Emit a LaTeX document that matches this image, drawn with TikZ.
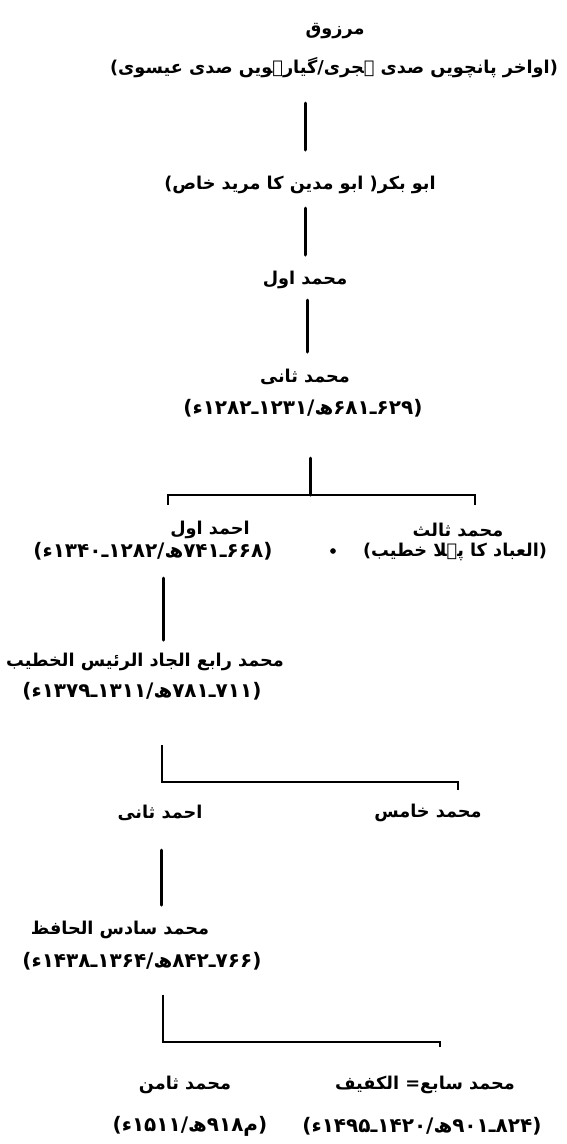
\documentclass[tikz,border=0pt]{standalone}
\usepackage{fontspec}
\newfontfamily\urdufont[Script=Arabic]{DejaVu Sans}
\TeXXeTstate=1
\newcommand{\ur}[1]{\beginR #1\endR}

\begin{document}
\begin{tikzpicture}[x=1pt,y=-1pt,
    branch/.style={line width=3pt,line cap=round},
    fork/.style={line width=2.2pt},
    person/.style={font=\urdufont\bfseries\fontsize{17.7}{21}\selectfont,inner sep=0pt},
    dates/.style={font=\urdufont\bfseries\fontsize{20}{22}\selectfont,inner sep=0pt}]

    \useasboundingbox (0,0) rectangle (566,1144);

    \coordinate (l1_top) at (305,103);
    \coordinate (l1_bot) at (305,150);
    \coordinate (l2_top) at (305,208);
    \coordinate (l2_bot) at (305,255);
    \coordinate (l3_top) at (307,300);
    \coordinate (l3_bot) at (307,352);
    \coordinate (l4_top) at (310,458);
    \coordinate (f1_mid) at (310,495);
    \coordinate (f1_left) at (168,505);
    \coordinate (f1_right) at (475,495);
    \coordinate (f1_right_tip) at (475,505);
    \coordinate (l5_top) at (163,578);
    \coordinate (l5_bot) at (163,640);
    \coordinate (l6_top) at (162,745);
    \coordinate (f2_right) at (458,782);
    \coordinate (f2_right_tip) at (458,790);
    \coordinate (l7_top) at (161,850);
    \coordinate (l7_bot) at (161,905);
    \coordinate (l8_top) at (163,995);
    \coordinate (f3_right) at (440,1042);
    \coordinate (f3_right_tip) at (440,1047);

    % Labels
    \node[person] (marzuq) at (335,31) {\ur{مرزوق}};
    \node[person] (marzuq_era) at (334,68) {\ur{(اواخر پانچویں صدی ہجری/گیارہویں صدی عیسوی)}};
    \node[person] (abubakr) at (300,185) {\ur{ابو بکر( ابو مدین کا مرید خاص)}};
    \node[person] (muhammad_1) at (305,280) {\ur{محمد اول}};
    \node[person] (muhammad_2) at (305,377) {\ur{محمد ثانی}};
    \node[dates] (muhammad_2_dates) at (303,408) {\ur{(۶۲۹ـ۶۸۱ھ/۱۲۳۱ـ۱۲۸۲ء)}};

    \node[person] (ahmad_1) at (210,530) {\ur{احمد اول}};
    \node[dates] (ahmad_1_dates) at (153,551) {\ur{(۶۶۸ـ۷۴۱ھ/۱۲۸۲ـ۱۳۴۰ء)}};
    \node[person] (muhammad_3) at (458,530) {\ur{محمد ثالث}};
    \node[person] (muhammad_3_note) at (455,552) {\ur{(العباد کا پہلا خطیب)}};
    \node[circle,fill,inner sep=2pt] (stray_dot) at (333,551) {};

    \node[person] (muhammad_4) at (145,662) {\ur{محمد رابع الجاد الرئیس الخطیب}};
    \node[dates] (muhammad_4_dates) at (142,691) {\ur{(۷۱۱ـ۷۸۱ھ/۱۳۱۱ـ۱۳۷۹ء)}};

    \node[person] (ahmad_2) at (160,813) {\ur{احمد ثانی}};
    \node[person] (muhammad_5) at (428,813) {\ur{محمد خامس}};

    \node[person] (muhammad_6) at (120,930) {\ur{محمد سادس الحافظ}};
    \node[dates] (muhammad_6_dates) at (142,961) {\ur{(۷۶۶ـ۸۴۲ھ/۱۳۶۴ـ۱۴۳۸ء)}};

    \node[person] (muhammad_8) at (185,1085) {\ur{محمد ثامن}};
    \node[dates] (muhammad_8_dates) at (190,1126) {\ur{(م۹۱۸ھ/۱۵۱۱ء)}};
    \node[person] (muhammad_7) at (425,1085) {\ur{محمد سابع= الکفیف}};
    \node[dates] (muhammad_7_dates) at (422,1126) {\ur{(۸۲۴ـ۹۰۱ھ/۱۴۲۰ـ۱۴۹۵ء)}};

    % Main line of descent
    \draw[branch] (l1_top) -- (l1_bot);
    \draw[branch] (l2_top) -- (l2_bot);
    \draw[branch] (l3_top) -- (l3_bot);
    \draw[branch] (l4_top) -- (f1_mid);
    \draw[branch] (l5_top) -- (l5_bot);
    \draw[branch] (l7_top) -- (l7_bot);

    % Forks
    \draw[fork] (f1_left) |- (f1_right) -- (f1_right_tip);
    \draw[fork] (l6_top) |- (f2_right) -- (f2_right_tip);
    \draw[fork] (l8_top) |- (f3_right) -- (f3_right_tip);

\end{tikzpicture}
\end{document}
